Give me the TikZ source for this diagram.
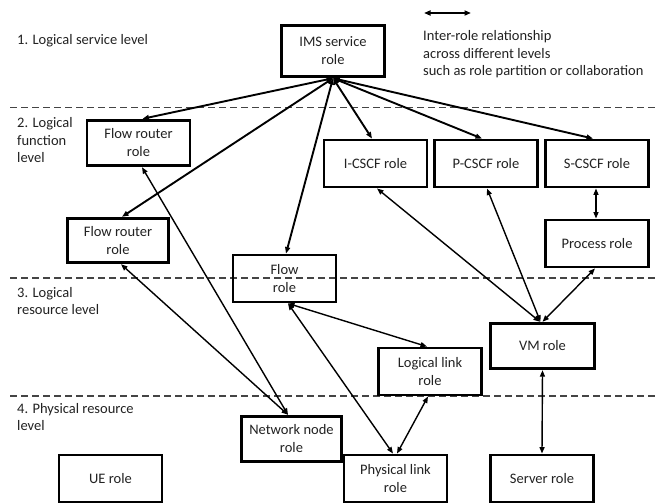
\documentclass[tikz,border=0pt]{standalone}
\usepackage{fontspec}
\setmainfont{Carlito}
\usetikzlibrary{arrows.meta}
\definecolor{txt}{HTML}{222222}
\definecolor{dashc}{HTML}{444444}
\tikzset{
  rolebox/.style={draw=black, line width=2.9pt, inner sep=0pt, align=center,
    minimum width=103pt, minimum height=47pt, text=txt,
    font=\fontsize{14.5}{18}\selectfont},
  lvl/.style={anchor=base west, inner sep=0pt, align=left, text=txt,
    font=\fontsize{14.5}{17.5}\selectfont},
  rel/.style={line width=1.4pt, {Triangle[length=6.5pt,width=5pt]}-{Triangle[length=6.5pt,width=5pt]}},
  relthick/.style={rel, line width=1.9pt},
  levelline/.style={draw=dashc, line width=1.1pt, dash pattern=on 7pt off 4pt}
}
\begin{document}
\begin{tikzpicture}[x=1pt,y=-1pt]
\useasboundingbox (0,0) rectangle (665,504);
\fill[white] (0,0) rectangle (665,504);

% level separators
\coordinate (d1a) at (10,107.5); \coordinate (d1b) at (655,107.5);
\coordinate (d2a) at (10,278);   \coordinate (d2b) at (655,278);
\coordinate (d3a) at (10,396);   \coordinate (d3b) at (655,396);
\draw[levelline] (d1a) -- (d1b);
\draw[levelline] (d2a) -- (d2b);
\draw[levelline] (d3a) -- (d3b);

% level labels
\node[lvl] (l1) at (17,44.5) {1. Logical service level};
\node[lvl] (l2a) at (17,127.5) {2. Logical};
\node[lvl] (l2b) at (17,145) {function};
\node[lvl] (l2c) at (17,162.5) {level};
\node[lvl] (l3a) at (17,297) {3. Logical};
\node[lvl] (l3b) at (17,314) {resource level};
\node[lvl] (l4a) at (17,413.5) {4. Physical resource};
\node[lvl] (l4b) at (17,430.5) {level};

% legend
\coordinate (lga) at (424,13);
\coordinate (lgb) at (471,13);
\draw[relthick] (lga) -- (lgb);
\node[lvl] (lg1) at (423,40.5) {Inter-role relationship};
\node[lvl] (lg2) at (423,58) {across different levels};
\node[lvl] (lg3) at (423,75.5) {such as role partition or collaboration};

% role boxes
\node[rolebox, minimum width=103.5pt, minimum height=51.5pt] (ims) at (333,51) {IMS service\\role};
\node[rolebox, minimum height=45.5pt] (fr1) at (138.5,143) {Flow router\\role};
\node[rolebox, minimum width=101.5pt, minimum height=44.5pt] (fr2) at (118,240.5) {Flow router\\role};
\node[rolebox] (icscf) at (375.5,163.5) {I-CSCF role};
\node[rolebox] (pcscf) at (486,163.5) {P-CSCF role};
\node[rolebox] (scscf) at (597,163.5) {S-CSCF role};
\node[rolebox] (proc) at (597,243.5) {Process role};
\node[rolebox] (flow) at (284.5,278.5) {Flow\\role};
\node[rolebox] (llink) at (430,371.5) {Logical link\\role};
\node[rolebox, minimum width=104.5pt, minimum height=45.5pt] (vm) at (542.5,346) {VM role};
\node[rolebox, minimum width=100.5pt, minimum height=45.5pt] (nnode) at (291.5,439) {Network node\\role};
\node[rolebox] (ue) at (110.5,478.5) {UE role};
\node[rolebox] (plink) at (395.5,478.5) {Physical link\\role};
\node[rolebox] (server) at (542,478.5) {Server role};

% relationships from IMS service role
\draw[relthick] (ims.south) -- ([xshift=4pt]fr1.north);
\draw[relthick] (ims.south) -- ([xshift=4pt]fr2.north);
\draw[relthick] (ims.south) -- ([xshift=1.5pt]flow.north);
\draw[relthick] (ims.south) -- ([xshift=-3.5pt]icscf.north);
\draw[relthick] (ims.south) -- ([xshift=-4pt]pcscf.north);
\draw[relthick] (ims.south) -- ([xshift=-4pt]scscf.north);

% other relationships
\draw[rel] ([xshift=3.5pt]fr1.south) -- ([xshift=-3.5pt]nnode.north);
\draw[rel] ([xshift=3pt]fr2.south) -- ([xshift=-3.5pt]nnode.north);
\draw[rel] ([xshift=3.5pt]flow.south) -- ([xshift=-2.5pt]plink.north);
\draw[rel] ([xshift=3.5pt]flow.south) -- ([xshift=-3pt]llink.north);
\draw[rel] ([xshift=-2pt]llink.south) -- ([xshift=1.5pt]plink.north);
\draw[rel] ([xshift=1.5pt]icscf.south) -- ([xshift=-2.5pt]vm.north);
\draw[rel] ([xshift=1pt]pcscf.south) -- ([xshift=-2pt]vm.north);
\draw[rel] ([xshift=-2pt]proc.south) -- (vm.north);
\draw[rel] ([xshift=-1pt]scscf.south) -- ([xshift=-1pt]proc.north);
\draw[rel] (vm.south) -- (server.north);
\end{tikzpicture}
\end{document}
